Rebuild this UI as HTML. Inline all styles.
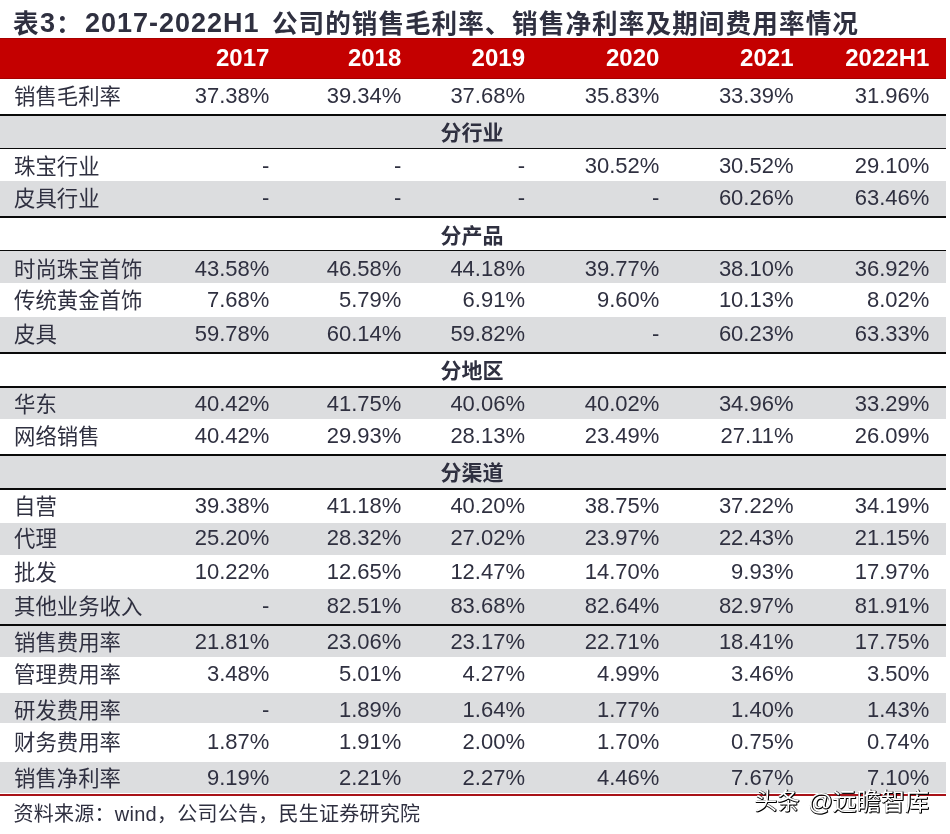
<!DOCTYPE html>
<html lang="zh-CN">
<head>
<meta charset="utf-8">
<title>表3</title>
<style>
html,body{margin:0;padding:0;background:#fff;}
body{width:950px;height:834px;position:relative;overflow:hidden;font-family:"Liberation Sans","Noto Sans CJK SC",sans-serif;color:#2f3040;}
.abs{position:absolute;}
.band{position:absolute;left:0;width:946px;}
.t{position:absolute;white-space:nowrap;line-height:1;}
.lab{left:14px;font-size:21.4px;}
.num{font-size:22px;text-align:right;}
.sec{font-size:21px;font-weight:bold;left:0;width:944px;text-align:center;}
.hd{font-size:24px;font-weight:bold;color:#fff;text-align:right;}
.ti{top:9px;font-size:25.6px;font-weight:bold;}
#src{left:13.5px;top:804.3px;font-size:20px;letter-spacing:0.25px;}
.wm{color:#fff;text-shadow:1px 1px 0 #000,1px 0 0 #111,0 1px 0 #111;}
</style>
</head>
<body>
<div class="t ti" style="left:13px;top:11.7px">表</div>
<div class="t ti" style="left:40px;top:9.5px;font-size:27px">3</div>
<div class="t ti" style="left:56px;top:11.7px">：</div>
<div class="t ti" style="left:85px;top:9.5px;font-size:27px;letter-spacing:1px">2017-2022H1</div>
<div class="t ti" style="left:272px;top:11.7px;letter-spacing:1px">公司的销售毛利率、</div>
<div class="t ti" style="left:512px;top:11.7px;letter-spacing:1.1px">销售净利率及期间费用率情况</div>
<div class="band" style="top:38px;height:40.8px;background:#c40000;box-shadow:inset 0 1px 0 #a60000,inset 0 -1px 0 #a60000"></div>
<div class="t hd" style="right:680.6px;top:46.4px">2017</div>
<div class="t hd" style="right:548.7px;top:46.4px">2018</div>
<div class="t hd" style="right:425px;top:46.4px">2019</div>
<div class="t hd" style="right:290.6px;top:46.4px">2020</div>
<div class="t hd" style="right:156.5px;top:46.4px">2021</div>
<div class="t hd" style="right:20.7px;top:46.4px">2022H1</div>
<div class="t lab" style="top:87.3px">销售毛利率</div>
<div class="t num" style="right:680.6px;top:85.3px">37.38%</div>
<div class="t num" style="right:548.7px;top:85.3px">39.34%</div>
<div class="t num" style="right:425px;top:85.3px">37.68%</div>
<div class="t num" style="right:290.6px;top:85.3px">35.83%</div>
<div class="t num" style="right:156.5px;top:85.3px">33.39%</div>
<div class="t num" style="right:20.7px;top:85.3px">31.96%</div>
<div class="band" style="top:116px;height:32.2px;background:#dcdddf"></div>
<div class="t sec" style="top:121.8px">分行业</div>
<div class="t lab" style="top:157.2px">珠宝行业</div>
<div class="t num" style="right:680.6px;top:155.2px">-</div>
<div class="t num" style="right:548.7px;top:155.2px">-</div>
<div class="t num" style="right:425px;top:155.2px">-</div>
<div class="t num" style="right:290.6px;top:155.2px">30.52%</div>
<div class="t num" style="right:156.5px;top:155.2px">30.52%</div>
<div class="t num" style="right:20.7px;top:155.2px">29.10%</div>
<div class="band" style="top:180.5px;height:35.5px;background:#dcdddf"></div>
<div class="t lab" style="top:189px">皮具行业</div>
<div class="t num" style="right:680.6px;top:187px">-</div>
<div class="t num" style="right:548.7px;top:187px">-</div>
<div class="t num" style="right:425px;top:187px">-</div>
<div class="t num" style="right:290.6px;top:187px">-</div>
<div class="t num" style="right:156.5px;top:187px">60.26%</div>
<div class="t num" style="right:20.7px;top:187px">63.46%</div>
<div class="t sec" style="top:224.6px">分产品</div>
<div class="band" style="top:251px;height:32px;background:#dcdddf"></div>
<div class="t lab" style="top:259.5px">时尚珠宝首饰</div>
<div class="t num" style="right:680.6px;top:257.5px">43.58%</div>
<div class="t num" style="right:548.7px;top:257.5px">46.58%</div>
<div class="t num" style="right:425px;top:257.5px">44.18%</div>
<div class="t num" style="right:290.6px;top:257.5px">39.77%</div>
<div class="t num" style="right:156.5px;top:257.5px">38.10%</div>
<div class="t num" style="right:20.7px;top:257.5px">36.92%</div>
<div class="t lab" style="top:290.9px">传统黄金首饰</div>
<div class="t num" style="right:680.6px;top:288.9px">7.68%</div>
<div class="t num" style="right:548.7px;top:288.9px">5.79%</div>
<div class="t num" style="right:425px;top:288.9px">6.91%</div>
<div class="t num" style="right:290.6px;top:288.9px">9.60%</div>
<div class="t num" style="right:156.5px;top:288.9px">10.13%</div>
<div class="t num" style="right:20.7px;top:288.9px">8.02%</div>
<div class="band" style="top:317px;height:35.3px;background:#dcdddf"></div>
<div class="t lab" style="top:325.1px">皮具</div>
<div class="t num" style="right:680.6px;top:323.1px">59.78%</div>
<div class="t num" style="right:548.7px;top:323.1px">60.14%</div>
<div class="t num" style="right:425px;top:323.1px">59.82%</div>
<div class="t num" style="right:290.6px;top:323.1px">-</div>
<div class="t num" style="right:156.5px;top:323.1px">60.23%</div>
<div class="t num" style="right:20.7px;top:323.1px">63.33%</div>
<div class="t sec" style="top:359.7px">分地区</div>
<div class="band" style="top:387.5px;height:31px;background:#dcdddf"></div>
<div class="t lab" style="top:395px">华东</div>
<div class="t num" style="right:680.6px;top:393px">40.42%</div>
<div class="t num" style="right:548.7px;top:393px">41.75%</div>
<div class="t num" style="right:425px;top:393px">40.06%</div>
<div class="t num" style="right:290.6px;top:393px">40.02%</div>
<div class="t num" style="right:156.5px;top:393px">34.96%</div>
<div class="t num" style="right:20.7px;top:393px">33.29%</div>
<div class="t lab" style="top:427.1px">网络销售</div>
<div class="t num" style="right:680.6px;top:425.1px">40.42%</div>
<div class="t num" style="right:548.7px;top:425.1px">29.93%</div>
<div class="t num" style="right:425px;top:425.1px">28.13%</div>
<div class="t num" style="right:290.6px;top:425.1px">23.49%</div>
<div class="t num" style="right:156.5px;top:425.1px">27.11%</div>
<div class="t num" style="right:20.7px;top:425.1px">26.09%</div>
<div class="band" style="top:455.6px;height:32.4px;background:#dcdddf"></div>
<div class="t sec" style="top:461.8px">分渠道</div>
<div class="t lab" style="top:496.7px">自营</div>
<div class="t num" style="right:680.6px;top:494.7px">39.38%</div>
<div class="t num" style="right:548.7px;top:494.7px">41.18%</div>
<div class="t num" style="right:425px;top:494.7px">40.20%</div>
<div class="t num" style="right:290.6px;top:494.7px">38.75%</div>
<div class="t num" style="right:156.5px;top:494.7px">37.22%</div>
<div class="t num" style="right:20.7px;top:494.7px">34.19%</div>
<div class="band" style="top:523px;height:32px;background:#dcdddf"></div>
<div class="t lab" style="top:529.2px">代理</div>
<div class="t num" style="right:680.6px;top:527.2px">25.20%</div>
<div class="t num" style="right:548.7px;top:527.2px">28.32%</div>
<div class="t num" style="right:425px;top:527.2px">27.02%</div>
<div class="t num" style="right:290.6px;top:527.2px">23.97%</div>
<div class="t num" style="right:156.5px;top:527.2px">22.43%</div>
<div class="t num" style="right:20.7px;top:527.2px">21.15%</div>
<div class="t lab" style="top:563px">批发</div>
<div class="t num" style="right:680.6px;top:561px">10.22%</div>
<div class="t num" style="right:548.7px;top:561px">12.65%</div>
<div class="t num" style="right:425px;top:561px">12.47%</div>
<div class="t num" style="right:290.6px;top:561px">14.70%</div>
<div class="t num" style="right:156.5px;top:561px">9.93%</div>
<div class="t num" style="right:20.7px;top:561px">17.97%</div>
<div class="band" style="top:589px;height:35px;background:#dcdddf"></div>
<div class="t lab" style="top:597.2px">其他业务收入</div>
<div class="t num" style="right:680.6px;top:595.2px">-</div>
<div class="t num" style="right:548.7px;top:595.2px">82.51%</div>
<div class="t num" style="right:425px;top:595.2px">83.68%</div>
<div class="t num" style="right:290.6px;top:595.2px">82.64%</div>
<div class="t num" style="right:156.5px;top:595.2px">82.97%</div>
<div class="t num" style="right:20.7px;top:595.2px">81.91%</div>
<div class="band" style="top:625.5px;height:31.1px;background:#dcdddf"></div>
<div class="t lab" style="top:632.8px">销售费用率</div>
<div class="t num" style="right:680.6px;top:630.8px">21.81%</div>
<div class="t num" style="right:548.7px;top:630.8px">23.06%</div>
<div class="t num" style="right:425px;top:630.8px">23.17%</div>
<div class="t num" style="right:290.6px;top:630.8px">22.71%</div>
<div class="t num" style="right:156.5px;top:630.8px">18.41%</div>
<div class="t num" style="right:20.7px;top:630.8px">17.75%</div>
<div class="t lab" style="top:664.7px">管理费用率</div>
<div class="t num" style="right:680.6px;top:662.7px">3.48%</div>
<div class="t num" style="right:548.7px;top:662.7px">5.01%</div>
<div class="t num" style="right:425px;top:662.7px">4.27%</div>
<div class="t num" style="right:290.6px;top:662.7px">4.99%</div>
<div class="t num" style="right:156.5px;top:662.7px">3.46%</div>
<div class="t num" style="right:20.7px;top:662.7px">3.50%</div>
<div class="band" style="top:693px;height:30px;background:#dcdddf"></div>
<div class="t lab" style="top:700.5px">研发费用率</div>
<div class="t num" style="right:680.6px;top:698.5px">-</div>
<div class="t num" style="right:548.7px;top:698.5px">1.89%</div>
<div class="t num" style="right:425px;top:698.5px">1.64%</div>
<div class="t num" style="right:290.6px;top:698.5px">1.77%</div>
<div class="t num" style="right:156.5px;top:698.5px">1.40%</div>
<div class="t num" style="right:20.7px;top:698.5px">1.43%</div>
<div class="t lab" style="top:732.9px">财务费用率</div>
<div class="t num" style="right:680.6px;top:730.9px">1.87%</div>
<div class="t num" style="right:548.7px;top:730.9px">1.91%</div>
<div class="t num" style="right:425px;top:730.9px">2.00%</div>
<div class="t num" style="right:290.6px;top:730.9px">1.70%</div>
<div class="t num" style="right:156.5px;top:730.9px">0.75%</div>
<div class="t num" style="right:20.7px;top:730.9px">0.74%</div>
<div class="band" style="top:762.3px;height:31.2px;background:#dcdddf"></div>
<div class="t lab" style="top:768.7px">销售净利率</div>
<div class="t num" style="right:680.6px;top:766.7px">9.19%</div>
<div class="t num" style="right:548.7px;top:766.7px">2.21%</div>
<div class="t num" style="right:425px;top:766.7px">2.27%</div>
<div class="t num" style="right:290.6px;top:766.7px">4.46%</div>
<div class="t num" style="right:156.5px;top:766.7px">7.67%</div>
<div class="t num" style="right:20.7px;top:766.7px">7.10%</div>
<div class="band" style="top:114.3px;height:1.7px;background:#0a0a0a"></div>
<div class="band" style="top:148.2px;height:1.3px;background:#0a0a0a"></div>
<div class="band" style="top:216px;height:1.5px;background:#0a0a0a"></div>
<div class="band" style="top:250px;height:1px;background:#0a0a0a"></div>
<div class="band" style="top:352.3px;height:1.5px;background:#0a0a0a"></div>
<div class="band" style="top:386px;height:1.5px;background:#0a0a0a"></div>
<div class="band" style="top:454px;height:1.6px;background:#0a0a0a"></div>
<div class="band" style="top:488px;height:1.5px;background:#0a0a0a"></div>
<div class="band" style="top:624px;height:1.5px;background:#0a0a0a"></div>
<div class="band" style="top:793.5px;height:2px;background:#a81218"></div>
<div id="src" class="t">资料来源：wind，公司公告，民生证券研究院</div>
<div class="t wm" style="left:754.5px;top:790.5px;font-size:22.6px">头条</div>
<div class="t wm" style="left:808px;top:789.5px;font-size:24.5px">@</div>
<div class="t wm" style="left:832.5px;top:790px;font-size:24px;letter-spacing:0.2px">远瞻智库</div>
</body>
</html>
